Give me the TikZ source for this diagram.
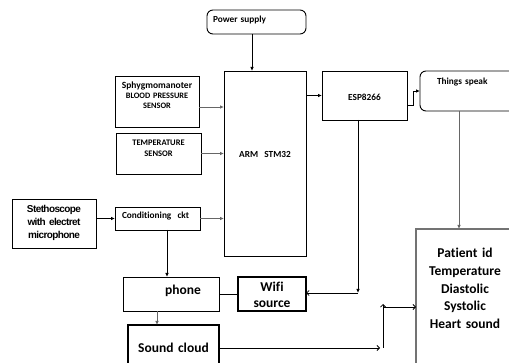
\documentclass[tikz,border=0pt]{standalone}
\usepackage{fontspec}
\setmainfont{Carlito}[Ligatures={NoCommon}]
\newfontfamily\stethfont{Liberation Sans}[LetterSpace=-6.0]
\usetikzlibrary{arrows.meta}

\begin{document}
\begin{tikzpicture}[x=1pt,y=-1pt,inner sep=0pt,outer sep=0pt,line width=0.8pt,
blockbox/.style={draw,rectangle,line width=0.9pt,align=center,font=\bfseries\fontsize{9.3}{10}\selectfont},
bigtext/.style={font=\bfseries\fontsize{13.5}{16}\selectfont},
heavybox/.style={blockbox,bigtext,line width=1.6pt},
roundbox/.style={blockbox,rounded corners=6pt,align=left},
arr/.style={-{Latex[length=4pt,width=3.5pt]}},
openarr/.style={-{Straight Barb[length=2.5pt,width=5pt]}},
grayline/.style={draw=black!60}]
\useasboundingbox (0,0) rectangle (509,363);
\draw (207,10) node[roundbox,anchor=north west,inner xsep=6pt,text width=87pt,text height=13pt,text depth=11pt] (power) {Power supply};
\draw (224,71) node[blockbox,anchor=north west,text width=82pt,text height=87pt,text depth=98pt] (arm) {ARM\ \ STM32};
\draw (322,71) node[blockbox,anchor=north west,text width=85pt,text height=30pt,text depth=19pt] (esp) {ESP8266};
\draw (420,71) node[roundbox,anchor=north west,inner xsep=17pt,text width=100pt,text height=14pt,text depth=26pt] (things) {Things speak};
\draw (115,76) node[blockbox,anchor=north west,text width=84pt,text height=12.5pt,text depth=38.5pt,font=\bfseries\fontsize{8.3}{10}\selectfont] (sphyg) {{\fontsize{9.5}{11}\selectfont Sphygmomanoter}\\BLOOD PRESSURE\\SENSOR};
\draw (116,133) node[blockbox,anchor=north west,text width=85pt,text height=12.5pt,text depth=28.5pt,font=\bfseries\fontsize{8.5}{11}\selectfont] (temp) {TEMPERATURE\\SENSOR};
\draw (12,199) node[blockbox,anchor=north west,text width=84pt,text height=14pt,text depth=35pt,font=\stethfont\bfseries\fontsize{10}{13}\selectfont] (steth) {Stethoscope\\with electret\\microphone};
\draw (115,207) node[blockbox,anchor=north west,align=left,inner xsep=7pt,text width=71pt,text height=12pt,text depth=11pt] (cond) {Conditioning\ \ ckt};
\draw (123,277) node[blockbox,bigtext,anchor=north west,align=right,inner xsep=18pt,text width=60pt,text height=17.5pt,text depth=16.5pt] (phone) {phone};
\draw (238,277) node[heavybox,anchor=north west,text width=68pt,text height=14.5pt,text depth=19.5pt] (wifi) {Wifi\\source};
\draw (128,325) node[heavybox,anchor=north west,text width=91pt,text height=27.5pt,text depth=18.5pt] (sound) {Sound cloud};
\draw (416,229) node[blockbox,bigtext,anchor=north west,draw=black!55,line width=1.5pt,text width=98pt,text height=28.5pt,text depth=150pt,font=\bfseries\fontsize{13.5}{17.8}\selectfont] (patient) {Patient id\\Temperature\\Diastolic\\Systolic\\Heart sound};
% links
\draw[arr] ([xshift=-4.5pt]power.south) -- ++(0,37);
\draw[arr,grayline] ([yshift=-5.5pt]sphyg.east) -- ++(25,0);
\draw[arr,grayline] (temp.east) -- (temp.east -| arm.west);
\draw[arr] (steth.east |- cond.west) -- (cond.west);
\draw[arr,grayline] (cond.east) -- (cond.east -| arm.west);
\draw[arr] ([xshift=9.5pt]cond.south) -- ++(0,47);
\draw[arr] (esp.west -| arm.east) -- (esp.west);
\draw[arr] ([yshift=-9.5pt]esp.east) -- ++(6,0) |- (things.west);
\draw[arr,grayline] ([xshift=-28pt]things.south) -- ++(0,118);
\draw[arr] ([xshift=-6.5pt]esp.south) -- ++(0,173) coordinate (wf);
\draw[openarr] (wf) -- (wf -| wifi.east);
\draw (phone.east) -- (wifi.west);
\draw[arr,grayline] ([xshift=-14pt]phone.south) -- ++(0,14);
\draw[openarr] (sound.east) -- ++(161,0) coordinate (sj);
\draw[openarr] (sj) ++(3,0) -- ++(0,-44);
\draw[openarr] (sj) ++(3,-41) -- ++(33,0);
\end{tikzpicture}
\end{document}
